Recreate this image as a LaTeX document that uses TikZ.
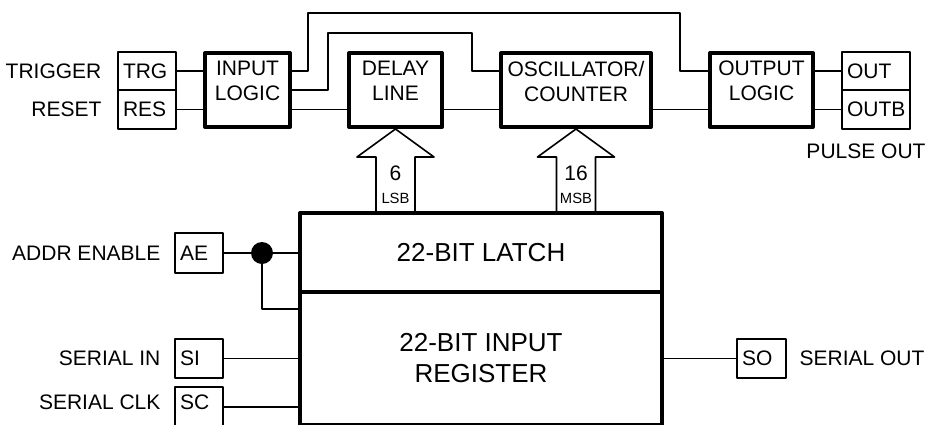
\documentclass[tikz,border=0pt]{standalone}
\usepackage{fontspec}
\setmainfont{Liberation Sans}
\begin{document}
\begin{tikzpicture}[x=0.5pt, y=-0.5pt, line width=0.8pt, line join=round,
    every node/.style={font=\fontsize{10.5}{12.5}\selectfont},
    blk/.style={draw, line width=2pt, minimum height=37pt},
    blktxt/.style={align=center, yshift=4.5pt},
    pinbox/.style={draw, inner xsep=2.5pt, inner ysep=0pt, align=left,
      text width=#1, minimum height=19.5pt},
    lbl/.style={inner sep=0pt},
    bigtxt/.style={font=\fontsize{13}{15.5}\selectfont, align=center},
    bitlbl/.style={font=\fontsize{7.4}{9}\selectfont, inner sep=0pt},
  ]
  \useasboundingbox (0,0) rectangle (927,424);
  \clip (0,0) rectangle (927,424);

  % input pins
  \node[pinbox=24pt, minimum height=19.25pt] (trg) at (147,71)    {TRG};
  \node[pinbox=24pt, minimum height=19.25pt] (res) at (147,109.5) {RES};
  \node[lbl, anchor=base east] (trigger) at ([xshift=-7.5pt]trg.base west) {TRIGGER};
  \node[lbl, anchor=base east] (reset)   at ([xshift=-7.5pt]res.base west) {RESET};

  % top row of blocks
  \node[blk, minimum width=42.5pt, label={[blktxt]center:INPUT\\LOGIC}] (inl) at (247.5,90) {};
  \node[blk, minimum width=46.5pt, label={[blktxt]center:DELAY\\LINE}] (dly) at (395.5,90) {};
  \node[blk, minimum width=75pt, label={[blktxt]center:OSCILLATOR/\\COUNTER}] (osc) at (576,90) {};
  \node[blk, minimum width=51.5pt, label={[blktxt]center:OUTPUT\\LOGIC}] (outl) at (761.5,90) {};

  % output pins
  \node[pinbox=29pt, minimum height=19.25pt] (out)  at (876,71)    {OUT};
  \node[pinbox=29pt, minimum height=19.25pt] (outb) at (876,109.5) {OUTB};
  \node[lbl, anchor=base] (pulse) at (866,158) {PULSE OUT};

  \coordinate (bendA) at (328,33);
  \coordinate (bendB) at (472,71);
  \coordinate (bendC) at (308,13);
  \coordinate (bendD) at (680,71);

  \draw (trg.east) -- (trg.east -| inl.west);
  \draw (res.east) -- (res.east -| inl.west);
  \draw (inl.east |- res.east) -- (dly.west |- res.east);
  \draw (dly.east |- res.east) -- (osc.west |- res.east);
  \draw (osc.east |- res.east) -- (outl.west |- res.east);
  \draw (inl.east) -| (bendA) -| (bendB) -- (osc.west |- trg.east);
  \draw (inl.east |- trg.east) -| (bendC) -| (bendD) -- (outl.west |- trg.east);
  \draw (outl.east |- trg.east) -- (out.west);
  \draw (outl.east |- res.east) -- (outb.west);

  % bus arrows
  \foreach \blkname/\bits/\side in {dly/6/LSB, osc/16/MSB} {
    \draw[fill=white] (\blkname.south) -- ++(38.5,28) -- ++(-19,0) -- ++(0,56)
      -- ++(-39,0) -- ++(0,-56) -- ++(-19,0) -- cycle;
    \node[lbl, anchor=base] (n\side) at ([yshift=-25.5pt]\blkname.south) {\bits};
    \node[bitlbl, anchor=base] (t\side) at ([yshift=-37pt]\blkname.south) {\side};
  }

  % latch and register
  \node[blk, bigtxt, minimum width=181pt, minimum height=39.5pt] (latch) at (481,252.5) {22-BIT LATCH};
  \node[blk, bigtxt, minimum width=181pt, minimum height=66.5pt] (reg) at (481,358.5) {22-BIT INPUT\\REGISTER};

  % serial side
  \node[pinbox=19pt, minimum height=20pt] (ae) at (199,253)   {AE};
  \node[pinbox=19pt] (si) at (199,358.5) {SI};
  \node[pinbox=19pt, minimum height=20pt, text depth=5pt] (sc) at (199,407) {SC};
  \node[pinbox=19.5pt] (so) at (761.5,358.5) {SO};
  \node[lbl, anchor=base east] (addr)   at ([xshift=-6.5pt]ae.base west) {ADDR ENABLE};
  \node[lbl, anchor=base east] (serin)  at ([xshift=-6.5pt]si.base west) {SERIAL IN};
  \node[lbl, anchor=base east] (serclk) at ([xshift=-6.5pt]sc.base west) {SERIAL CLK};
  \node[lbl, anchor=base west] (serout) at ([xshift=6pt]so.base east) {SERIAL OUT};

  \coordinate (dot) at (262,253);
  \coordinate (aeturn) at (262,309);
  \draw (ae.east) -- (ae.east -| latch.west);
  \fill (dot) circle (5.5pt);
  \draw (dot) -- (aeturn) -- (aeturn -| reg.west);
  \draw (si.east) -- (si.east -| reg.west);
  \draw (sc.east) -- (sc.east -| reg.west);
  \draw (reg.east |- so.west) -- (so.west);
\end{tikzpicture}
\end{document}
